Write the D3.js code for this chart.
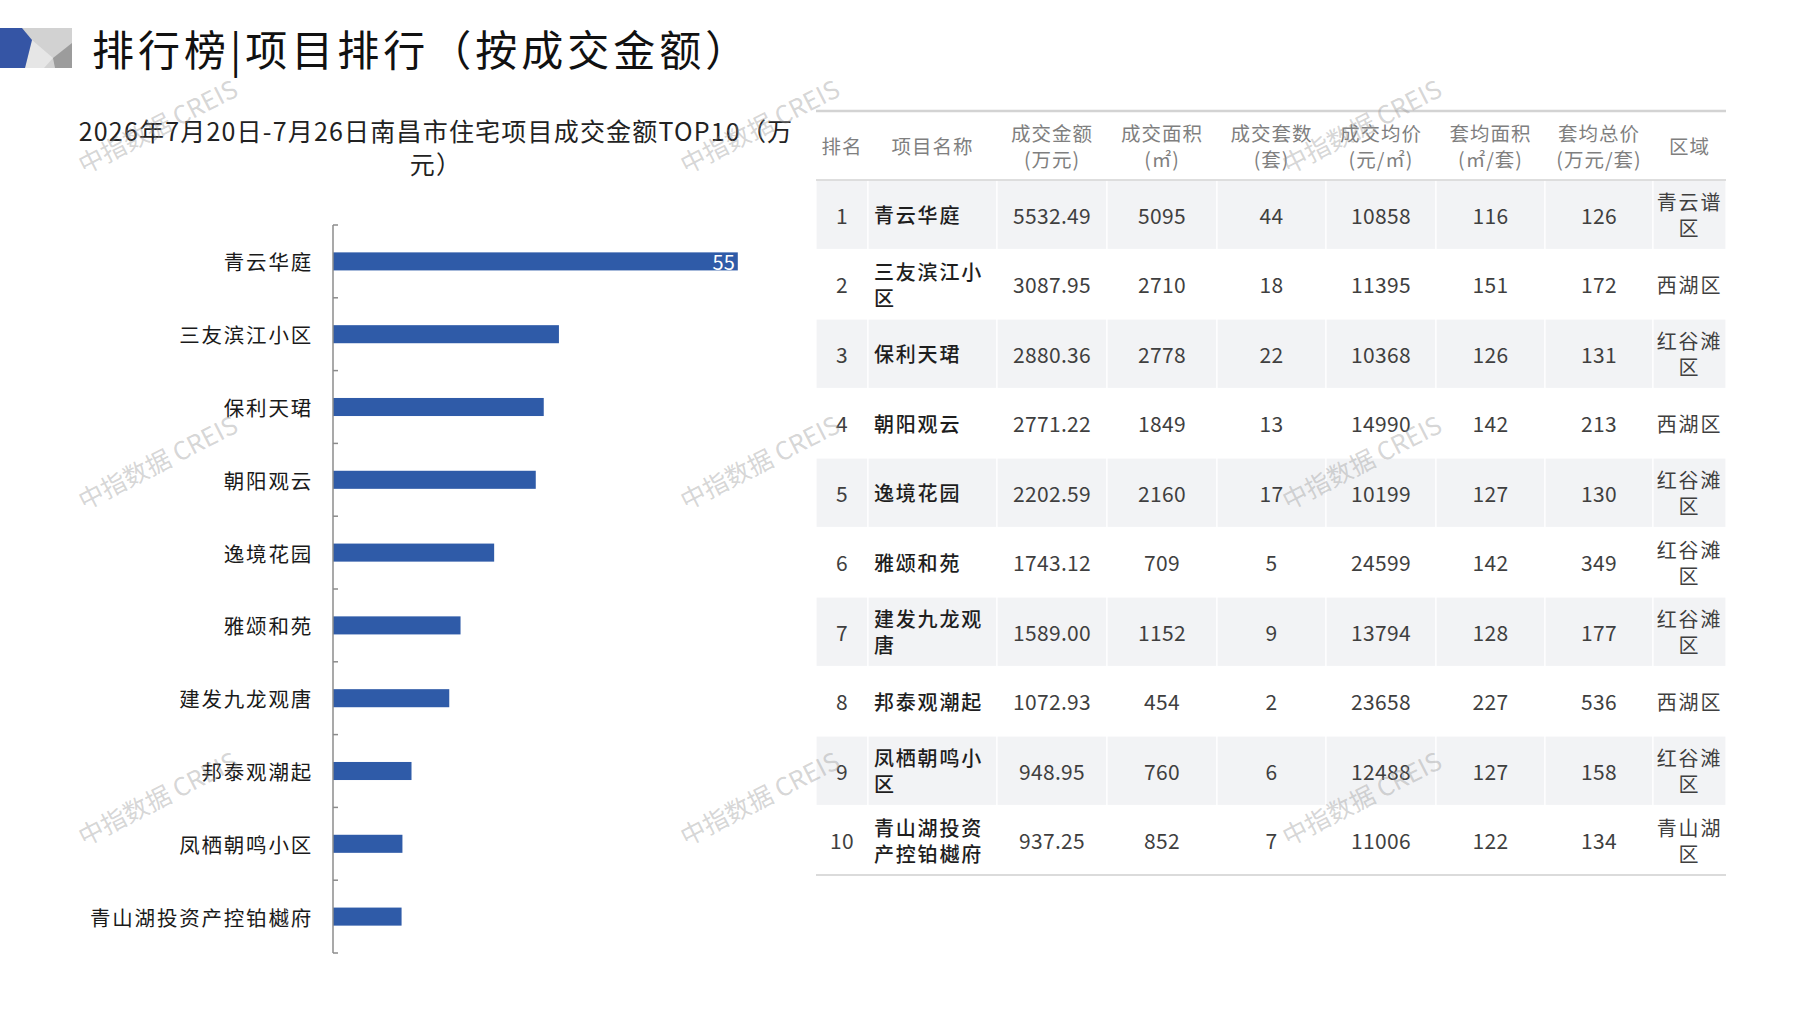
<!DOCTYPE html>
<html>
<head>
<meta charset="utf-8">
<script src="https://cdn.jsdelivr.net/npm/d3@7"></script>
<style>
  html, body { margin: 0; padding: 0; background: #fff; }
  svg { display: block; font-family: "Noto Sans CJK SC", "Noto Sans", sans-serif; }
</style>
</head>
<body>
<div id="chart"></div>
<script>
// ─── Data ───
const projects = ["青云华庭", "三友滨江小区", "保利天珺", "朝阳观云", "逸境花园", "雅颂和苑", "建发九龙观唐", "邦泰观潮起", "凤栖朝鸣小区", "青山湖投资产控铂樾府"];
const amounts = [5532.49, 3087.95, 2880.36, 2771.22, 2202.59, 1743.12, 1589.00, 1072.93, 948.95, 937.25];
const areas = [5095, 2710, 2778, 1849, 2160, 709, 1152, 454, 760, 852];
const units = [44, 18, 22, 13, 17, 5, 9, 2, 6, 7];
const avgPrices = [10858, 11395, 10368, 14990, 10199, 24599, 13794, 23658, 12488, 11006];
const avgAreas = [116, 151, 126, 142, 127, 142, 128, 227, 127, 122];
const avgTotals = [126, 172, 131, 213, 130, 349, 177, 536, 158, 134];
const districts = ["青云谱区", "西湖区", "红谷滩区", "西湖区", "红谷滩区", "红谷滩区", "红谷滩区", "西湖区", "红谷滩区", "青山湖区"];
const headers = [["排名"], ["项目名称"], ["成交金额", "(万元)"], ["成交面积", "(㎡)"], ["成交套数", "(套)"], ["成交均价", "(元/㎡)"], ["套均面积", "(㎡/套)"], ["套均总价", "(万元/套)"], ["区域"]];
// only the top bar carries a (clipped) value label in the original
const barLabels = ["55"];

const TITLE = "排行榜|项目排行（按成交金额）";
const SUBTITLE = ["2026年7月20日-7月26日南昌市住宅项目成交金额TOP10（万", "元）"];
const WATERMARK = "中指数据 CREIS";

// ─── Page ───
const W = 1797, H = 1010;
const svg = d3.select("#chart").append("svg").attr("width", W).attr("height", H);
svg.append("rect").attr("width", W).attr("height", H).attr("fill", "#fff");

// ── Title block ──
const icon = svg.append("g");
icon.append("rect").attr("x", 0).attr("y", 28).attr("width", 72).attr("height", 40).attr("fill", "#d2d2d2");
icon.append("polygon").attr("points", "32,40 53,58 44,68 25,68").attr("fill", "#e6e6e6");
icon.append("polygon").attr("points", "53,58 72,43 72,68 55,68").attr("fill", "#9c9c9c");
icon.append("polygon").attr("points", "0,28 22,28 32,40 25,68 0,68").attr("fill", "#3555a5");

svg.append("text")
  .attr("x", 92).attr("y", 66)
  .style("font-size", "42px").style("letter-spacing", "4px")
  .attr("fill", "#111")
  .text(TITLE);

// ── Subtitle ──
svg.append("g").selectAll("text")
  .data(SUBTITLE)
  .join("text")
  .attr("x", 436)
  .attr("y", (d, i) => 130 + i * 33)
  .attr("text-anchor", "middle")
  .attr("dominant-baseline", "central")
  .style("font-size", "25px").style("letter-spacing", "1.2px")
  .attr("fill", "#222")
  .text((d) => d);

// ── Bar chart ──
const x = d3.scaleLinear().domain([0, 6000]).range([333, 772]);
const y = d3.scaleBand().domain(projects).range([225, 953])
  .paddingInner(0.752).paddingOuter(0.376);
const step = y.step();

const chart = svg.append("g");
chart.selectAll("rect.bar")
  .data(projects)
  .join("rect")
  .attr("class", "bar")
  .attr("x", x(0))
  .attr("y", (d) => y(d))
  .attr("width", (d, i) => x(amounts[i]) - x(0))
  .attr("height", y.bandwidth())
  .attr("fill", "#2f5ba8");

chart.selectAll("text.cat")
  .data(projects)
  .join("text")
  .attr("class", "cat")
  .attr("x", 313)
  .attr("y", (d) => y(d) + y.bandwidth() / 2)
  .attr("text-anchor", "end")
  .attr("dominant-baseline", "central")
  .style("font-size", "20.5px").style("letter-spacing", "1.8px")
  .attr("fill", "#1a1a1a")
  .text((d) => d);

chart.selectAll("text.val")
  .data(barLabels)
  .join("text")
  .attr("class", "val")
  .attr("x", (d, i) => x(amounts[i]) - 3)
  .attr("y", (d, i) => y(projects[i]) + y.bandwidth() / 2)
  .attr("text-anchor", "end")
  .attr("dominant-baseline", "central")
  .style("font-size", "20px")
  .attr("fill", "#fff")
  .text((d) => d);

// axis line + ticks at band boundaries
const bounds = projects.map((d) => y(d) + y.bandwidth() / 2 - step / 2);
bounds.push(bounds[bounds.length - 1] + step);
chart.append("line")
  .attr("x1", x(0)).attr("x2", x(0))
  .attr("y1", bounds[0]).attr("y2", bounds[bounds.length - 1])
  .attr("stroke", "#8c8c8c").attr("stroke-width", 1.5);
chart.selectAll("line.tick")
  .data(bounds)
  .join("line")
  .attr("class", "tick")
  .attr("x1", x(0)).attr("x2", x(0) + 5)
  .attr("y1", (d) => d).attr("y2", (d) => d)
  .attr("stroke", "#8c8c8c").attr("stroke-width", 1.5);

// ── Table ──
const colX = [816, 868, 997, 1107, 1217, 1326, 1436, 1545, 1653, 1726];
const headTop = 111, headBottom = 180, rowH = 69.5, lineGap = 26;
const table = svg.append("g");

function wrapChars(str, n) {
  const out = [];
  for (let i = 0; i < str.length; i += n) out.push(str.slice(i, i + n));
  return out;
}

const rows = projects.map((p, i) => [
  String(i + 1),
  p,
  amounts[i].toFixed(2),
  String(areas[i]),
  String(units[i]),
  String(avgPrices[i]),
  String(avgAreas[i]),
  String(avgTotals[i]),
  districts[i],
]);

// shaded rows
rows.forEach((r, i) => {
  if (i % 2 !== 0) return;
  const top = headBottom + i * rowH;
  table.append("g").selectAll("rect")
    .data(colX.slice(0, -1))
    .join("rect")
    .attr("x", (d) => d)
    .attr("y", top)
    .attr("width", (d, j) => colX[j + 1] - d)
    .attr("height", rowH)
    .attr("fill", "#f2f3f5")
    .attr("stroke", "#fff").attr("stroke-width", 1.2);
});

// rule lines
table.append("line").attr("x1", colX[0]).attr("x2", colX[9]).attr("y1", headTop).attr("y2", headTop)
  .attr("stroke", "#d3d3d3").attr("stroke-width", 2.5);
table.append("line").attr("x1", colX[0]).attr("x2", colX[9]).attr("y1", headBottom).attr("y2", headBottom)
  .attr("stroke", "#d3d3d3").attr("stroke-width", 1.5);
table.append("line").attr("x1", colX[0]).attr("x2", colX[9])
  .attr("y1", headBottom + rows.length * rowH).attr("y2", headBottom + rows.length * rowH)
  .attr("stroke", "#cfcfcf").attr("stroke-width", 1.5);

// header text
headers.forEach((lines, j) => {
  const cx = (colX[j] + colX[j + 1]) / 2;
  const cy = (headTop + headBottom) / 2;
  table.append("g").selectAll("text")
    .data(lines)
    .join("text")
    .attr("x", cx)
    .attr("y", (d, k) => cy + (k - (lines.length - 1) / 2) * lineGap)
    .attr("text-anchor", "middle")
    .attr("dominant-baseline", "central")
    .style("font-size", "19.5px").style("letter-spacing", "1px")
    .attr("fill", "#7f7f7f")
    .text((d) => d);
});

// body text
rows.forEach((r, i) => {
  const cy = headBottom + i * rowH + rowH / 2;
  r.forEach((val, j) => {
    let lines = [val];
    if (j === 1) lines = wrapChars(val, 5);
    if (j === 8 && val.length > 3) lines = wrapChars(val, 3);
    const left = j === 1;
    const g = table.append("g");
    g.selectAll("text")
      .data(lines)
      .join("text")
      .attr("x", left ? colX[j] + 6 : (colX[j] + colX[j + 1]) / 2)
      .attr("y", (d, k) => cy + (k - (lines.length - 1) / 2) * lineGap)
      .attr("text-anchor", left ? "start" : "middle")
      .attr("dominant-baseline", "central")
      .style("font-size", j === 1 || j === 8 ? "20px" : "21px")
      .style("letter-spacing", j === 1 || j === 8 ? "1.8px" : "0.3px")
      .style("font-weight", j === 1 ? 500 : 400)
      .attr("fill", j === 1 ? "#1e1e1e" : "#3f3f3f")
      .text((d) => d);
  });
});

// ── Watermarks ──
const wmX = [157, 759, 1361];
const wmY = [125, 461, 797];
const wm = svg.append("g").attr("pointer-events", "none");
wmY.forEach((wy) => {
  wm.append("g").selectAll("text")
    .data(wmX)
    .join("text")
    .attr("transform", (wx) => `translate(${wx},${wy}) rotate(-27)`)
    .attr("text-anchor", "middle")
    .attr("dominant-baseline", "central")
    .style("font-size", "25px")
    .attr("fill", "rgba(150,150,150,0.4)")
    .text(WATERMARK);
});
</script>
</body>
</html>
